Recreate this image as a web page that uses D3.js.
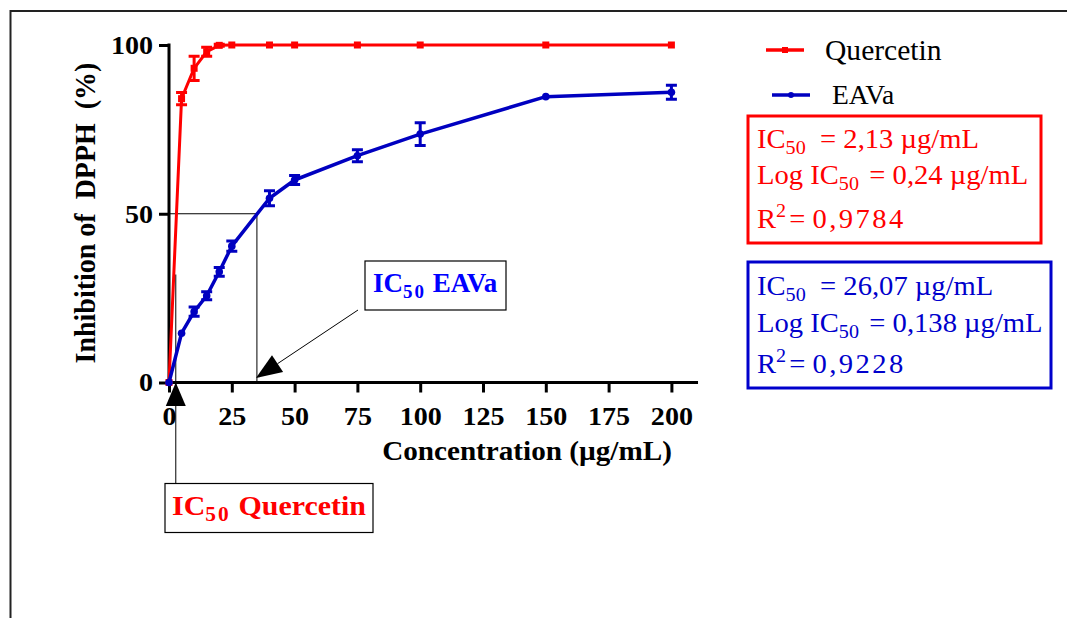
<!DOCTYPE html>
<html lang="en">
<head>
<meta charset="UTF-8">
<title>DPPH inhibition</title>
<script src="https://d3js.org/d3.v7.min.js"></script>
<style>
  body { margin: 0; background: #fff; }
  svg text { font-family: "Liberation Serif", "Times New Roman", serif; white-space: pre; }
</style>
</head>
<body>
<div id="chart"></div>
<script>
// concentrations (µg/mL)
const conc = [0, 5, 10, 15, 20, 25, 40, 50, 75, 100, 150, 200];
// Quercetin inhibition (%) and SEM
const quercetin    = [0, 84.1, 93.1, 98.0, 99.9, 100, 100, 100, 100, 100, 100, 100];
const quercetinErr = [0, 1.8, 3.6, 1.3, 0.3, 0, 0, 0, 0, 0, 0, 0];
// EAVa inhibition (%) and SEM
const eava    = [0, 14.6, 21.0, 25.7, 32.8, 40.4, 54.6, 60.0, 67.2, 73.6, 84.7, 86.0];
const eavaErr = [0, 0, 1.4, 1.2, 1.3, 1.5, 2.2, 1.3, 1.8, 3.4, 0, 2.1];

const xTicks = [0, 25, 50, 75, 100, 125, 150, 175, 200];
const yTicks = [0, 50, 100];

// IC50 guide lines (chart units)
const ic50Guide = { eavaX: 35, quercX: 2.7, quercTop: 32 };

const W = 1067, H = 618;
const SX = 1.08; // horizontal stretch of the original lettering
const FONT = "'Liberation Serif', 'Times New Roman', serif";
const RED = "#ff0000", BLUE = "#0000c0", BOXBLUE = "#0000cc";

const svg = d3.select("#chart").append("svg")
    .attr("width", W).attr("height", H);

// outer frame (cut by the page)
svg.append("rect")
    .attr("x", 10.5).attr("y", 11).attr("width", W + 20).attr("height", H + 20)
    .attr("fill", "none").attr("stroke", "#222").attr("stroke-width", 2);

const x = d3.scaleLinear().domain([0, 200]).range([169, 671.4]);
const y = d3.scaleLinear().domain([0, 100]).range([382.5, 45]);

function label(parent, px, py, sx) {
    return parent.append("g")
        .attr("transform", `translate(${px},${py}) scale(${sx || SX},1)`)
        .append("text")
        .style("font-family", FONT);
}

// guide lines
const guide = svg.append("g").attr("stroke", "#000").attr("stroke-width", 1).attr("fill", "none");
guide.append("path")
    .attr("d", `M${x(0)},${y(50)}H${x(ic50Guide.eavaX)}V${y(0)}`);
guide.append("line")
    .attr("x1", x(ic50Guide.quercX)).attr("x2", x(ic50Guide.quercX))
    .attr("y1", y(ic50Guide.quercTop)).attr("y2", 483);

// axes
const xAxis = svg.append("g")
    .attr("transform", `translate(0,${y(0)})`)
    .call(d3.axisBottom(x).tickValues(xTicks).tickSize(10).tickSizeOuter(0).tickPadding(12));
xAxis.select(".domain").remove();
xAxis.append("line")
    .attr("x1", x(0) - 2).attr("x2", x(210.6))
    .attr("stroke", "#000").attr("stroke-width", 3);

const yAxis = svg.append("g")
    .attr("transform", `translate(${x(0)},0)`)
    .call(d3.axisLeft(y).tickValues(yTicks).tickSize(10).tickSizeOuter(0).tickPadding(6));
yAxis.select(".domain").attr("stroke-width", 3).attr("d", `M0,${y(0) + 1.5}V${y(100) - 1.5}`);

svg.selectAll(".tick line").attr("stroke", "#000").attr("stroke-width", 3);
svg.selectAll(".tick text")
    .attr("fill", "#000")
    .style("font-family", FONT)
    .style("font-size", "26px").style("font-weight", "bold")
    .attr("transform", `scale(${SX},1)`);
xAxis.selectAll(".tick text").attr("dy", "0.78em");
yAxis.selectAll(".tick text").attr("x", -16 / SX);

// axis titles
label(svg, 527, 460)
    .attr("text-anchor", "middle")
    .style("font-size", "27px").style("font-weight", "bold")
    .text("Concentration (µg/mL)");

svg.append("g")
    .attr("transform", `translate(95,213) rotate(-90) scale(1,${SX})`)
    .append("text")
    .attr("text-anchor", "middle")
    .style("font-family", FONT)
    .style("font-size", "28px").style("font-weight", "bold")
    .text("Inhibition of  DPPH  (%)");

// series
function drawSeries(vals, errs, color, width, marker) {
    const pts = conc.map((c, i) => ({ c: c, v: vals[i], e: errs[i] }));
    const g = svg.append("g");
    g.append("path")
        .datum(pts)
        .attr("fill", "none").attr("stroke", color).attr("stroke-width", width)
        .attr("stroke-linejoin", "round")
        .attr("d", d3.line().x(d => x(d.c)).y(d => y(d.v)));

    g.selectAll(".err").data(pts.filter(d => d.e > 0)).enter()
        .append("path").attr("class", "err")
        .attr("fill", "none").attr("stroke", color).attr("stroke-width", 3)
        .attr("d", d => {
            const cx = x(d.c), top = y(d.v + d.e), bot = y(d.v - d.e);
            return `M${cx - 5.5},${top}H${cx + 5.5}M${cx},${top}V${bot}M${cx - 5.5},${bot}H${cx + 5.5}`;
        });

    if (marker === "square") {
        g.selectAll(".mk").data(pts).enter().append("rect")
            .attr("x", d => x(d.c) - 3.5).attr("y", d => y(d.v) - 3.5)
            .attr("width", 7).attr("height", 7).attr("fill", color);
    } else {
        g.selectAll(".mk").data(pts).enter().append("circle")
            .attr("cx", d => x(d.c)).attr("cy", d => y(d.v))
            .attr("r", 3.8).attr("fill", color);
    }
}
drawSeries(quercetin, quercetinErr, RED, 3, "square");
drawSeries(eava, eavaErr, BLUE, 3.5, "circle");

// arrows
function arrow(x1, y1, x2, y2, len, half) {
    const ang = Math.atan2(y2 - y1, x2 - x1);
    const bx = x2 - len * Math.cos(ang), by = y2 - len * Math.sin(ang);
    const nx = -Math.sin(ang) * half, ny = Math.cos(ang) * half;
    svg.append("line").attr("x1", x1).attr("y1", y1).attr("x2", bx).attr("y2", by)
        .attr("stroke", "#000").attr("stroke-width", 1);
    svg.append("path")
        .attr("d", `M${x2},${y2}L${bx + nx},${by + ny}L${bx - nx},${by - ny}Z`)
        .attr("fill", "#000");
}
arrow(358, 310, x(34.6), y(1.3), 26, 10);
svg.append("path")
    .attr("d", `M${x(ic50Guide.quercX)},${y(0)}L${x(ic50Guide.quercX) + 10},406L${x(ic50Guide.quercX) - 10},406Z`)
    .attr("fill", "#000");

// annotation boxes
svg.append("rect").attr("x", 365).attr("y", 261).attr("width", 141).attr("height", 49)
    .attr("fill", "#fff").attr("stroke", "#000").attr("stroke-width", 1.2);
let t = label(svg, 373, 292, 1.0).attr("fill", "#0000ff").style("font-weight", "bold").style("font-size", "27px");
t.append("tspan").text("IC");
t.append("tspan").attr("dy", 6).style("font-size", "19px").style("letter-spacing", "2px").text("50");
t.append("tspan").attr("dy", -6).text(" EAVa");

svg.append("rect").attr("x", 165).attr("y", 483.5).attr("width", 208).attr("height", 49)
    .attr("fill", "#fff").attr("stroke", "#000").attr("stroke-width", 1.2);
t = label(svg, 172, 515, 1.07).attr("fill", RED).style("font-weight", "bold").style("font-size", "28px");
t.append("tspan").text("IC");
t.append("tspan").attr("dy", 6).style("font-size", "20px").style("letter-spacing", "2px").text("50");
t.append("tspan").attr("dy", -6).text(" Quercetin");

// legend
const legend = [
    { name: "Quercetin", color: RED, marker: "square", lx: 766, ly: 50, tx: 825, ty: 60, fs: 29 },
    { name: "EAVa", color: BLUE, marker: "circle", lx: 772, ly: 95, tx: 832, ty: 104, fs: 27 }
];
legend.forEach(d => {
    svg.append("line").attr("x1", d.lx).attr("x2", d.lx + 38).attr("y1", d.ly).attr("y2", d.ly)
        .attr("stroke", d.color).attr("stroke-width", 3.5);
    if (d.marker === "square")
        svg.append("rect").attr("x", d.lx + 16).attr("y", d.ly - 3).attr("width", 6).attr("height", 6).attr("fill", d.color);
    else
        svg.append("circle").attr("cx", d.lx + 19).attr("cy", d.ly).attr("r", 3).attr("fill", d.color);
    label(svg, d.tx, d.ty, 1.02).style("font-size", d.fs + "px").attr("fill", "#000").text(d.name);
});

// result boxes
const results = [
    { color: RED, box: [748, 116, 293, 127], ys: [148, 184, 228],
      ic50: "2,13", log: "0,24", r2: "0,9784" },
    { color: BOXBLUE, box: [748, 262, 303, 126], ys: [295, 332, 373],
      ic50: "26,07", log: "0,138", r2: "0,9228" }
];
results.forEach(r => {
    svg.append("rect").attr("x", r.box[0]).attr("y", r.box[1]).attr("width", r.box[2]).attr("height", r.box[3])
        .attr("fill", "none").attr("stroke", r.color).attr("stroke-width", 3);
    const fs = "27px", sub = "19px", sx = 1.06;
    let a = label(svg, 757, r.ys[0], sx).attr("fill", r.color).style("font-size", fs);
    a.append("tspan").text("IC");
    a.append("tspan").attr("dy", 6).style("font-size", sub).text("50");
    a.append("tspan").attr("dy", -6).text(`  = ${r.ic50} µg/mL`);
    a = label(svg, 757, r.ys[1], sx).attr("fill", r.color).style("font-size", fs);
    a.append("tspan").text("Log IC");
    a.append("tspan").attr("dy", 6).style("font-size", sub).text("50");
    a.append("tspan").attr("dy", -6).attr("dx", 3).text(` = ${r.log} µg/mL`);
    a = label(svg, 757, r.ys[2], sx).attr("fill", r.color).style("font-size", fs);
    a.append("tspan").text("R");
    a.append("tspan").attr("dy", -11).style("font-size", sub).text("2");
    a.append("tspan").attr("dy", 11).attr("dx", 3).text("= " + r.r2.split("").join("\u200a"));
});
</script>
</body>
</html>
